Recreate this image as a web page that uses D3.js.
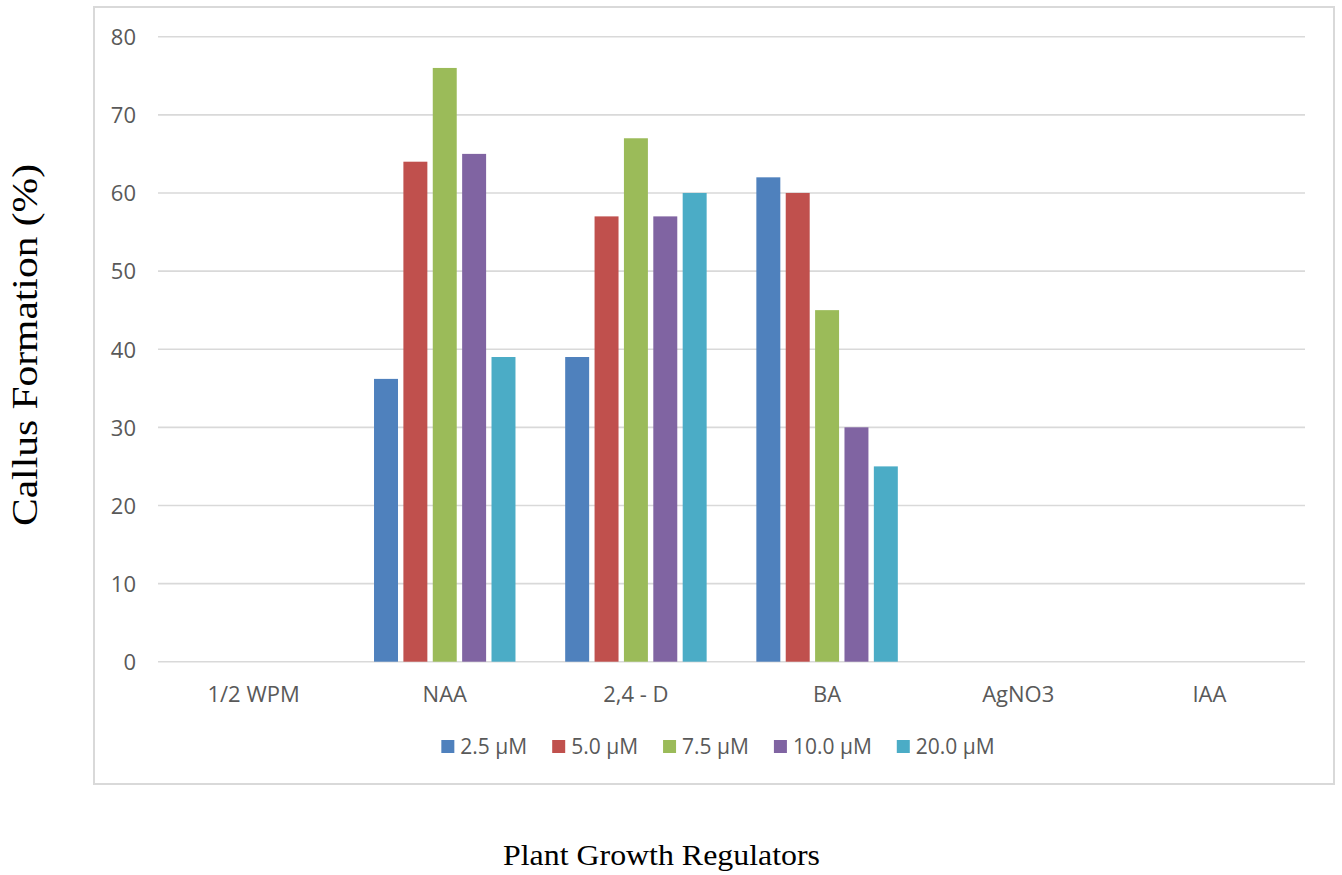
<!DOCTYPE html>
<html><head><meta charset="utf-8">
<script src="https://cdn.jsdelivr.net/npm/d3@7"></script>
<style>body{margin:0;background:#fff}svg{display:block}</style>
</head><body>
<svg id="chart" width="1342" height="875"></svg>
<script>
// ---- data ----
const categories = ["1/2 WPM", "NAA", "2,4 - D", "BA", "AgNO3", "IAA"];
const seriesNames = ["2.5 µM", "5.0 µM", "7.5 µM", "10.0 µM", "20.0 µM"];
const values25  = [0, 36.2, 39, 62, 0, 0];
const values50  = [0, 64, 57, 60, 0, 0];
const values75  = [0, 76, 67, 45, 0, 0];
const values100 = [0, 65, 57, 30, 0, 0];
const values200 = [0, 39, 60, 25, 0, 0];
const yTicks = [0, 10, 20, 30, 40, 50, 60, 70, 80];
const seriesColors = ["#4f81bd", "#c0504d", "#9bbb59", "#8064a2", "#4bacc6"];
const yTitle = "Callus Formation (%)";
const xTitle = "Plant Growth Regulators";

const seriesValues = [values25, values50, values75, values100, values200];

const svg = d3.select("#chart");
const labelFont = "'Open Sans', Lato, sans-serif";
const labelColor = "#595959";

// chart box
svg.append("rect")
  .attr("x", 94).attr("y", 7).attr("width", 1240).attr("height", 777)
  .attr("fill", "none").attr("stroke", "#d9d9d9").attr("stroke-width", 2);

const x = d3.scaleBand().domain(categories).range([158, 1305]).padding(0);
const y = d3.scaleLinear().domain([0, 80]).range([661.7, 36.7]);
const groupSpan = x.bandwidth() * 0.74;
const xs = d3.scaleBand().domain(seriesNames).range([0, groupSpan]).paddingInner(0.184).paddingOuter(0);

// gridlines
svg.append("g").selectAll("line").data(yTicks).join("line")
  .attr("x1", 158).attr("x2", 1305)
  .attr("y1", d => y(d)).attr("y2", d => y(d))
  .attr("stroke", "#d9d9d9").attr("stroke-width", 1.6);

// y tick labels via axis
const yAxis = svg.append("g").attr("transform", "translate(136,0)")
  .call(d3.axisLeft(y).tickValues(yTicks).tickSize(0).tickPadding(0));
yAxis.select(".domain").remove();
yAxis.selectAll("text")
  .attr("font-family", labelFont).attr("font-size", 22).attr("fill", labelColor)
  .attr("dy", "0.36em");

// x category labels via axis
const xAxis = svg.append("g").attr("transform", "translate(0,702)")
  .call(d3.axisBottom(x).tickSize(0).tickPadding(0));
xAxis.select(".domain").remove();
xAxis.selectAll("text")
  .attr("font-family", labelFont).attr("font-size", 22).attr("fill", labelColor)
  .attr("dy", "0");

// bars
const flat = [];
seriesValues.forEach((vals, si) => vals.forEach((v, ci) => flat.push({s: seriesNames[si], si, c: categories[ci], v})));
svg.append("g").selectAll("rect").data(flat.filter(d => d.v > 0)).join("rect")
  .attr("x", d => x(d.c) + (x.bandwidth() - groupSpan) / 2 + xs(d.s))
  .attr("width", xs.bandwidth())
  .attr("y", d => y(d.v))
  .attr("height", d => y(0) - y(d.v))
  .attr("fill", d => seriesColors[d.si]);

// legend
const legend = svg.append("g");
const items = legend.selectAll("g").data(seriesNames).join("g");
items.append("rect").attr("width", 13).attr("height", 13).attr("y", -14)
  .attr("fill", (d, i) => seriesColors[i]);
items.append("text").attr("x", 19).attr("y", 0)
  .attr("font-family", labelFont).attr("font-size", 21).attr("fill", labelColor)
  .text(d => d);
let cx = 0;
const positions = [];
items.each(function () {
  positions.push(cx);
  const w = this.getBBox().width;
  cx += w + 25;
});
const total = cx - 25;
const startX = 718 - total / 2;
items.attr("transform", (d, i) => `translate(${startX + positions[i]},754)`);

// axis titles
svg.append("text")
  .attr("transform", "translate(37,345) rotate(-90)")
  .attr("text-anchor", "middle")
  .attr("font-family", "'Liberation Serif', 'Times New Roman', serif")
  .attr("font-size", 35).attr("fill", "#000")
  .attr("textLength", 362).attr("lengthAdjust", "spacingAndGlyphs")
  .text(yTitle);

svg.append("text")
  .attr("x", 661.5).attr("y", 865)
  .attr("text-anchor", "middle")
  .attr("font-family", "'Liberation Serif', 'Times New Roman', serif")
  .attr("font-size", 30).attr("fill", "#000")
  .attr("textLength", 317).attr("lengthAdjust", "spacingAndGlyphs")
  .text(xTitle);
</script>
</body></html>
